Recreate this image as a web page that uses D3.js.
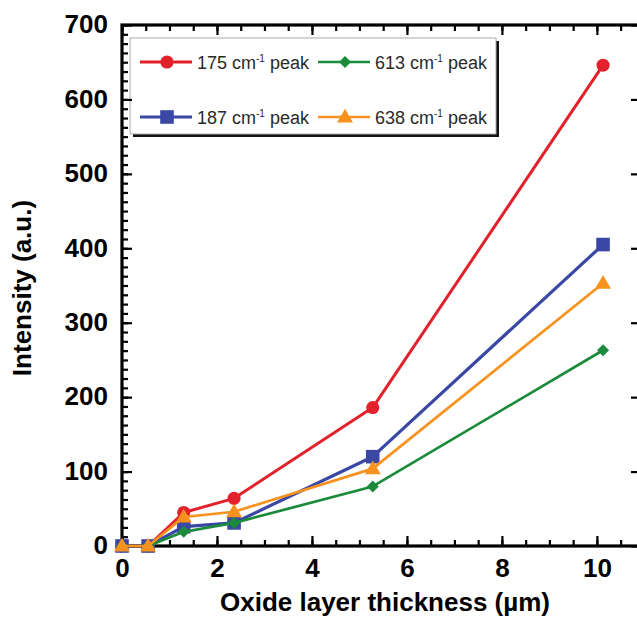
<!DOCTYPE html>
<html>
<head>
<meta charset="utf-8">
<script src="https://cdn.jsdelivr.net/npm/d3@7"></script>
<style>
  html, body { margin: 0; padding: 0; background: #fff; }
  svg { display: block; }
</style>
</head>
<body>
<svg id="chart" width="637" height="618"></svg>
<script>
// Raman peak intensity versus oxide layer thickness
const thickness = [0, 0.55, 1.3, 2.36, 5.28, 10.13];
const peak175 = [0, 0, 45, 64, 186, 646];
const peak187 = [0, 0, 26, 31, 120, 405];
const peak613 = [0, 0, 19, 31, 80, 263];
const peak638 = [0, 0, 39, 46, 104, 353];
const xMajorTicks = [0, 2, 4, 6, 8, 10];
const yMajorTicks = [0, 100, 200, 300, 400, 500, 600, 700];
const xTitle = "Oxide layer thickness (µm)";
const yTitle = "Intensity (a.u.)";

const series = [
  { wavenumber: "175", values: peak175, color: "#e3212b", shape: "circle",   width: 3 },
  { wavenumber: "187", values: peak187, color: "#3a47a5", shape: "square",   width: 3.2 },
  { wavenumber: "613", values: peak613, color: "#1b8b3b", shape: "diamond",  width: 2.7 },
  { wavenumber: "638", values: peak638, color: "#f7921e", shape: "triangle", width: 2.7 }
];

const svg = d3.select("#chart");
const plotL = 122, plotR = 642, plotT = 25, plotB = 546;
const x = d3.scaleLinear().domain([0, 10.95]).range([plotL, plotR]);
const y = d3.scaleLinear().domain([0, 700]).range([plotB, plotT]);

const FONT = "'Liberation Sans', Arial, Helvetica, sans-serif";

// ---- legend (drawn beneath the axes so ticks sit on top) ----
const legend = svg.append("g");
legend.append("rect").attr("x", 133).attr("y", 41).attr("width", 366).attr("height", 96)
  .attr("fill", "#111");
legend.append("rect").attr("x", 130).attr("y", 38).attr("width", 366).attr("height", 96)
  .attr("fill", "#fff").attr("stroke", "#aaa").attr("stroke-width", 1);

// marker glyphs; the diamond is a square turned by 45 degrees
function markerPath(shape) {
  const sym = { circle: d3.symbolCircle, square: d3.symbolSquare,
                diamond: d3.symbolSquare, triangle: d3.symbolTriangle }[shape];
  const size = { circle: 135, square: 185, diamond: 72, triangle: 110 }[shape];
  return d3.symbol().type(sym).size(size)();
}
function markerTransform(shape, px, py) {
  if (shape === "diamond") return `translate(${px},${py}) rotate(45)`;
  if (shape === "triangle") return `translate(${px},${py + 1})`;
  return `translate(${px},${py})`;
}

const legendPos = [
  { x0: 140, y0: 62 }, { x0: 140, y0: 117 },
  { x0: 318, y0: 62 }, { x0: 318, y0: 117 }
];
series.forEach((s, i) => {
  const p = legendPos[i];
  const g = legend.append("g");
  g.append("line").attr("x1", p.x0).attr("x2", p.x0 + 52).attr("y1", p.y0).attr("y2", p.y0)
    .attr("stroke", s.color).attr("stroke-width", s.width);
  g.append("path").attr("d", markerPath(s.shape))
    .attr("transform", markerTransform(s.shape, p.x0 + 27, p.y0))
    .attr("fill", s.color);
  const t = g.append("text").attr("x", p.x0 + 57).attr("y", p.y0 + 6.5)
    .attr("font-family", FONT).attr("font-size", 18).attr("fill", "#2a2a2a");
  t.append("tspan").text(s.wavenumber + " cm");
  t.append("tspan").attr("font-size", 10).attr("dy", -7).text("-1");
  t.append("tspan").attr("dy", 7).text(" peak");
});

// ---- axes with inward ticks on all four sides ----
function styleAxis(g) {
  g.select(".domain").remove();
  g.selectAll(".tick line").attr("stroke", "#000").attr("stroke-width", 2.2);
}
const xMinor = d3.range(0, 11, 0.5);
const yMinor = d3.range(0, 701, 12.5);

svg.append("g").attr("transform", `translate(0,${plotB})`)
  .call(d3.axisBottom(x).tickValues(xMinor).tickSize(-6).tickFormat("")).call(styleAxis);
svg.append("g").attr("transform", `translate(0,${plotB})`)
  .call(d3.axisBottom(x).tickValues(xMajorTicks).tickSize(-10).tickPadding(13).tickFormat(d3.format("d")))
  .call(styleAxis)
  .call(g => g.selectAll("text").attr("font-family", FONT).attr("font-size", 26)
    .attr("font-weight", "bold").attr("fill", "#000"));

svg.append("g").attr("transform", `translate(0,${plotT})`)
  .call(d3.axisTop(x).tickValues(xMinor).tickSize(-6).tickFormat("")).call(styleAxis);
svg.append("g").attr("transform", `translate(0,${plotT})`)
  .call(d3.axisTop(x).tickValues(xMajorTicks).tickSize(-10).tickFormat("")).call(styleAxis);

svg.append("g").attr("transform", `translate(${plotL},0)`)
  .call(d3.axisLeft(y).tickValues(yMinor).tickSize(-6).tickFormat("")).call(styleAxis);
svg.append("g").attr("transform", `translate(${plotL},0)`)
  .call(d3.axisLeft(y).tickValues(yMajorTicks).tickSize(-10).tickPadding(14).tickFormat(d3.format("d")))
  .call(styleAxis)
  .call(g => g.selectAll("text").attr("font-family", FONT).attr("font-size", 26)
    .attr("font-weight", "bold").attr("fill", "#000").attr("dy", "0.3em"));

svg.append("g").attr("transform", `translate(${plotR},0)`)
  .call(d3.axisRight(y).tickValues(yMinor).tickSize(-5).tickFormat("")).call(styleAxis);
svg.append("g").attr("transform", `translate(${plotR},0)`)
  .call(d3.axisRight(y).tickValues(yMajorTicks).tickSize(-11).tickFormat("")).call(styleAxis);

// frame
svg.append("rect").attr("x", plotL).attr("y", plotT).attr("width", plotR - plotL).attr("height", plotB - plotT)
  .attr("fill", "none").attr("stroke", "#000").attr("stroke-width", 3.2);

// ---- axis titles ----
svg.append("text").attr("x", 385).attr("y", 611).attr("text-anchor", "middle")
  .attr("font-family", FONT).attr("font-size", 26).attr("font-weight", "bold").text(xTitle);
svg.append("text").attr("transform", "translate(31,288) rotate(-90)").attr("text-anchor", "middle")
  .attr("font-family", FONT).attr("font-size", 26).attr("font-weight", "bold").text(yTitle);

// ---- data series ----
const line = d3.line().x((d, i) => x(thickness[i])).y(d => y(d));
series.forEach(s => {
  const g = svg.append("g");
  g.append("path").datum(s.values).attr("d", line)
    .attr("fill", "none").attr("stroke", s.color).attr("stroke-width", s.width)
    .attr("stroke-linejoin", "round");
  g.selectAll("path.mark").data(s.values).join("path").attr("class", "mark")
    .attr("d", markerPath(s.shape))
    .attr("transform", (d, i) => markerTransform(s.shape, x(thickness[i]), y(d)))
    .attr("fill", s.color);
});
</script>
</body>
</html>
